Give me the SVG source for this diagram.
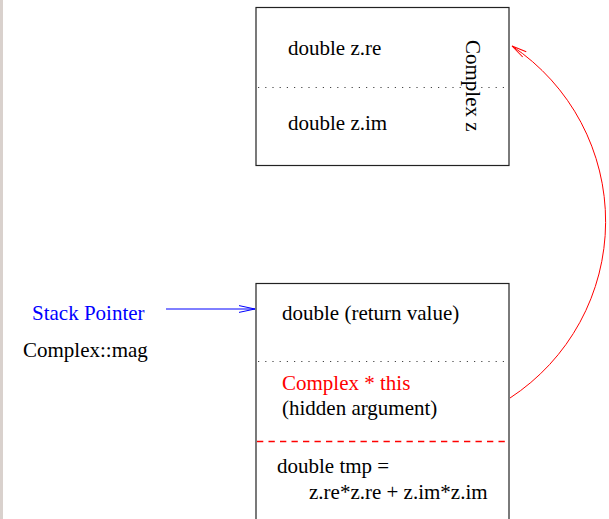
<svg xmlns="http://www.w3.org/2000/svg" width="609" height="519" viewBox="0 0 609 519">
<defs>
<style>
text{font-family:"Liberation Serif","Times New Roman",serif;font-size:21px;fill:#000}
.red{fill:#ff0000}
.blue{fill:#0000ff}
.box{fill:#fff;stroke:#222;stroke-width:1.2}
.dot{stroke:#444;stroke-width:1.2;stroke-dasharray:1.2 6;fill:none}
</style>
<marker id="ab" markerUnits="userSpaceOnUse" markerWidth="20" markerHeight="10" refX="0" refY="0" viewBox="-17 -5 18 10" orient="auto" overflow="visible">
<path d="M-16,-3.4 L0,0 L-16,3.4" fill="none" stroke="#0000ff" stroke-width="1"/>
</marker>
<marker id="ar" markerUnits="userSpaceOnUse" markerWidth="20" markerHeight="10" refX="0" refY="0" viewBox="-17 -5 18 10" orient="auto" overflow="visible">
<path d="M-15,-3.2 L0,0 L-15,3.2" fill="none" stroke="#ff0000" stroke-width="1"/>
</marker>
</defs>
<rect x="0" y="0" width="609" height="519" fill="#fff"/>
<rect x="0" y="0" width="3" height="519" fill="#d9d1cd"/>
<g id="complex-z">
<rect class="box" x="256" y="7.5" width="253" height="158"/>
<line class="dot" x1="258" y1="87.5" x2="509" y2="87.5"/>
<text x="288" y="55">double z.re</text>
<text x="288" y="129.5">double z.im</text>
<text transform="translate(466,40) rotate(90)">Complex z</text>
</g>
<g id="stack-frame">
<rect class="box" x="256" y="283.5" width="253" height="250"/>
<line class="dot" x1="258" y1="361.5" x2="509" y2="361.5"/>
<path d="M257,441.5 H508" stroke="#ff0000" stroke-width="1.3" stroke-dasharray="6.3 5.2" fill="none"/>
<text x="282" y="320">double (return value)</text>
<text class="red" x="282" y="389.5">Complex * this</text>
<text x="282" y="415">(hidden argument)</text>
<text x="277" y="473">double tmp =</text>
<text x="309" y="499">z.re*z.re + z.im*z.im</text>
</g>
<g id="stack-pointer">
<text class="blue" x="32" y="319.5">Stack Pointer</text>
</g>
<g id="complex-mag">
<text x="23" y="357">Complex::mag</text>
</g>
<g id="connectors">
<line x1="166" y1="309" x2="255" y2="309" stroke="#0000ff" stroke-width="1" marker-end="url(#ab)"/>
<path d="M510,398 A211,211 0 0 0 512,46" fill="none" stroke="#ff0000" stroke-width="1" marker-end="url(#ar)"/>
</g>
</svg>
